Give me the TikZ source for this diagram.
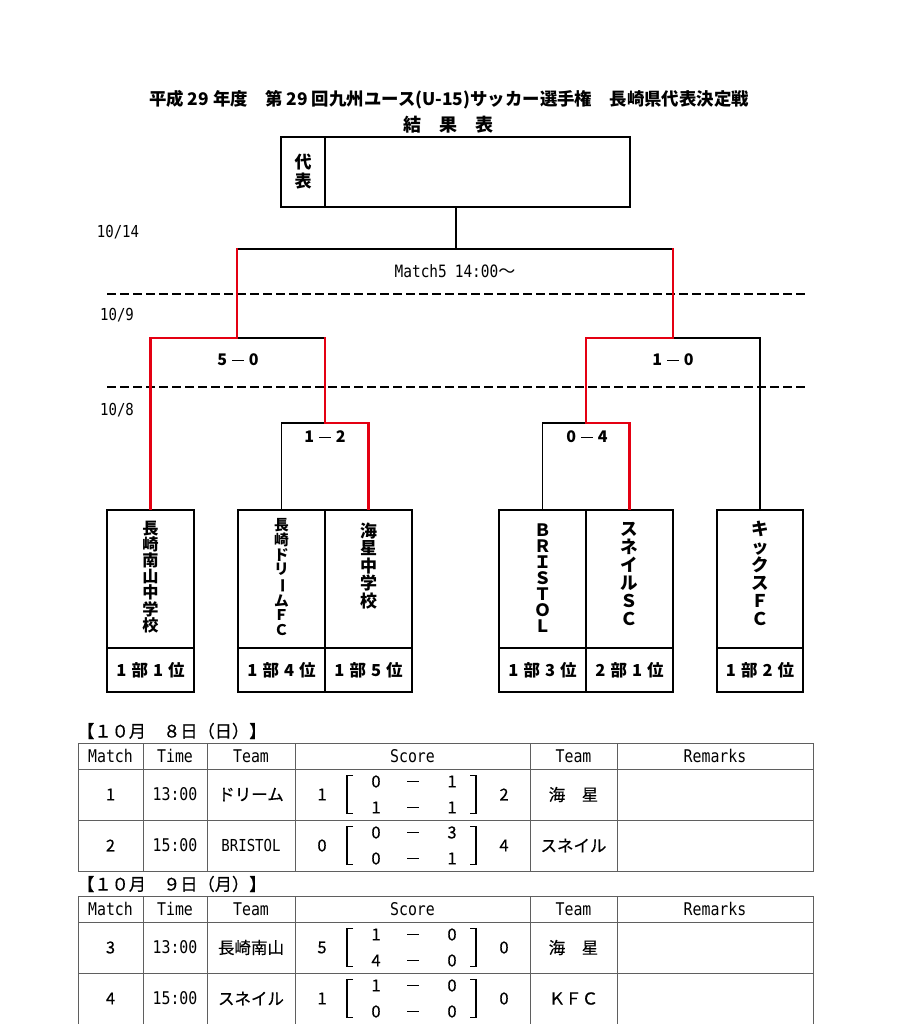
\documentclass[tikz,border=0pt]{standalone}
\usepackage{fontspec}
\usepackage{graphicx}
\setmainfont{Noto Sans CJK JP}
\newfontfamily\jptab{Noto Sans CJK JP}[FakeBold=0.4]
\newfontfamily\narrow{DejaVu Sans Mono}[FakeStretch=0.85]
\definecolor{winred}{RGB}{228,0,18}
\definecolor{gridgray}{RGB}{95,95,95}
\newcommand{\vbar}{\rotatebox[origin=c]{-90}{ー}}
\newcommand{\sdash}{\hspace{0.3em}\rule[0.3em]{0.75em}{0.08em}\hspace{0.3em}}
\begin{document}
\begin{tikzpicture}[x=1pt,y=-1pt,
  blk/.style={line width=1.8pt, black, line cap=rect},
  win/.style={line width=2.6pt, winred, line cap=rect, line join=miter},
  dashsep/.style={line width=1.8pt, black, dash pattern=on 9pt off 4pt},
  boxcell/.style={draw, line width=1.8pt, inner sep=0pt, minimum width=87pt},
  vtext/.style={anchor=north, align=center, inner sep=0pt},
  rank/.style={boxcell, minimum height=44pt, font=\bfseries\fontsize{16.5}{18}\selectfont},
  tall/.style={boxcell, minimum height=138pt},
  cell/.style={draw=gridgray, line width=0.9pt},
  brk/.style={line width=1.1pt, black},
  tabtxt/.style={inner sep=0pt, font=\jptab\fontsize{16.5}{17}\selectfont},
  tablat/.style={inner sep=0pt, font=\narrow\fontsize{17.5}{18}\selectfont},
  scoretxt/.style={inner sep=0pt, font=\bfseries\fontsize{16}{17}\selectfont}
]
\useasboundingbox[fill=white] (0,0) rectangle (913,1024);

% ---------- titles ----------
\node[inner sep=0pt, font=\bfseries\fontsize{17.4}{19}\selectfont] (title) at (449,100)
  {平成 29 年度　第 29 回九州ユース(U-15)サッカー選手権　長崎県代表決定戦};
\node[inner sep=0pt, font=\bfseries\fontsize{18}{19}\selectfont] (subtitle) at (448,125) {結　果　表};

% ---------- representative box ----------
\node[boxcell, minimum width=44pt, minimum height=70pt] (repL) at (303,172) {};
\node[boxcell, minimum width=305pt, minimum height=70pt] (repR) at (477.5,172) {};
\node[vtext, font=\bfseries\fontsize{17}{19}\selectfont] (repT) at (303,154) {代\\表};

% ---------- team boxes ----------
\node[tall] (A)  at (150.5,579) {};
\node[tall] (B1) at (281.5,579) {};
\node[tall] (B2) at (368.5,579) {};
\node[tall] (C1) at (542.5,579) {};
\node[tall] (C2) at (629.5,579) {};
\node[tall, minimum width=86pt] (D) at (760,579) {};

\node[rank] (Ar)  at (150.5,670) {1\hspace{5pt}部\hspace{5pt}1\hspace{5pt}位};
\node[rank] (B1r) at (281.5,670) {1\hspace{5pt}部\hspace{5pt}4\hspace{5pt}位};
\node[rank] (B2r) at (368.5,670) {1\hspace{5pt}部\hspace{5pt}5\hspace{5pt}位};
\node[rank] (C1r) at (542.5,670) {1\hspace{5pt}部\hspace{5pt}3\hspace{5pt}位};
\node[rank] (C2r) at (629.5,670) {2\hspace{5pt}部\hspace{5pt}1\hspace{5pt}位};
\node[rank, minimum width=86pt] (Dr) at (760,670) {1\hspace{5pt}部\hspace{5pt}2\hspace{5pt}位};

\node[vtext, font=\bfseries\fontsize{16.2}{16.2}\selectfont] (At) at (150.5,520.5) {長\\崎\\南\\山\\中\\学\\校};
\node[vtext, font=\bfseries\fontsize{14.7}{14.7}\selectfont] (B1t) at (281.5,518.5) {長\\崎\\ド\\リ\\\vbar\\ム\\Ｆ\\Ｃ};
\node[vtext, font=\bfseries\fontsize{17}{17.5}\selectfont] (B2t) at (368.5,522.5) {海\\星\\中\\学\\校};
\node[vtext, font=\bfseries\fontsize{17}{16}\selectfont] (C1t) at (542.5,523.5) {Ｂ\\Ｒ\\Ｉ\\Ｓ\\Ｔ\\Ｏ\\Ｌ};
\node[vtext, font=\bfseries\fontsize{17.5}{18}\selectfont] (C2t) at (629.5,522) {ス\\ネ\\イ\\ル\\Ｓ\\Ｃ};
\node[vtext, font=\bfseries\fontsize{17.5}{18}\selectfont] (Dt) at (760,520.5) {キ\\ッ\\ク\\ス\\Ｆ\\Ｃ};

% ---------- dashed day separators ----------
\coordinate (d1a) at (107,294); \coordinate (d1b) at (805,294);
\coordinate (d2a) at (107,387); \coordinate (d2b) at (805,387);
\draw[dashsep] (d1a) -- (d1b);
\draw[dashsep] (d2a) -- (d2b);

% ---------- bracket ----------
\coordinate (jT) at (456,249);
\coordinate (jL) at (237,249);
\coordinate (jR) at (673,249);
\coordinate (sL) at (237,338);
\coordinate (sLr) at (325,338);
\coordinate (sR) at (673,338);
\coordinate (sRl) at (586,338);
\coordinate (qL) at (325,423);
\coordinate (qR) at (586,423);

\draw[blk] (repR.south -| jT) -- (jT);
\draw[blk] (jL) -- (jR);
\draw[blk] (sL) -- (sLr);
\draw[blk] (B1.north) |- (qL);
\draw[blk] (C1.north) |- (qR);
\draw[blk] (D.north) |- (sR);

\draw[win] (A.north) |- (sL) -- (jL);
\draw[win] (B2.north) |- (qL) -- (sLr);
\draw[win] (C2.north) |- (qR) -- (sRl) -- (sR) -- (jR);

% ---------- bracket labels ----------
\node[tablat, font=\narrow\fontsize{16.5}{17}\selectfont] (d14) at (118,232) {10/14};
\node[tablat, font=\narrow\fontsize{16.5}{17}\selectfont] (d9) at (117,315) {10/9};
\node[tablat, font=\narrow\fontsize{16.5}{17}\selectfont] (d8) at (117,410) {10/8};
\node[inner sep=0pt] (m5) at (455,271) {\narrow\fontsize{17}{18}\selectfont Match5\hspace{8pt}14:00{\rmfamily ～}};
\node[scoretxt] (s5) at (238,360) {5\sdash 0};
\node[scoretxt] (s12) at (325,437) {1\sdash 2};
\node[scoretxt] (s04) at (587,437) {0\sdash 4};
\node[scoretxt] (s10) at (673,360) {1\sdash 0};

% ---------- tables ----------
\node[tabtxt, anchor=west, font=\jptab\fontsize{17.2}{18}\selectfont] (day1) at (77,731) {【１０月　８日（日）】};
\node[tabtxt, anchor=west, font=\jptab\fontsize{17.2}{18}\selectfont] (day2) at (77,884) {【１０月　９日（月）】};

% table 1 grid
\draw[cell] (78,743) rectangle (813,871);
\draw[cell] (78,769) -- (813,769);
\draw[cell] (78,820) -- (813,820);
\foreach \x in {143,207,295,530,617} \draw[cell] (\x,743) -- (\x,871);
% table 2 grid
\draw[cell] (78,1024) -- (78,896) -- (813,896) -- (813,1024);
\draw[cell] (78,922) -- (813,922);
\draw[cell] (78,973) -- (813,973);
\foreach \x in {143,207,295,530,617} \draw[cell] (\x,896) -- (\x,1024);

% headers
\foreach \k/\hy in {1/756, 2/909} {
  \node[tablat] (hM\k) at (110.5,\hy) {Match};
  \node[tablat] (hT\k) at (175,\hy) {Time};
  \node[tablat] (hA\k) at (251,\hy) {Team};
  \node[tablat] (hS\k) at (412.5,\hy) {Score};
  \node[tablat] (hB\k) at (573.5,\hy) {Team};
  \node[tablat] (hR\k) at (715,\hy) {Remarks};
}

% rows
\foreach \n/\y/\tm/\ta/\sa/\p/\q/\r/\s/\sb/\tb in {
  1/794.5/13:00/ドリーム/1/0/1/1/1/2/海　星,
  2/845.5/15:00/{\narrow BRISTOL}/0/0/3/0/1/4/スネイル,
  3/947.5/13:00/長崎南山/5/1/0/4/0/0/海　星,
  4/998.5/15:00/スネイル/1/1/0/0/0/0/ＫＦＣ} {
  \node[tabtxt] (rm\n) at (110.5,\y) {\n};
  \node[tablat] (rt\n) at (175,\y) {\tm};
  \node[tabtxt] (ra\n) at (251,\y) {\ta};
  \node[tabtxt] (rsa\n) at (322,\y) {\sa};
  \node[tabtxt] (rp\n) at (376,{\y-13}) {\p};
  \node[inner sep=0pt] (rd\n) at (413,{\y-13}) {\rule{12pt}{1.3pt}};
  \node[tabtxt] (rq\n) at (452,{\y-13}) {\q};
  \node[tabtxt] (rr\n) at (376,{\y+13}) {\r};
  \node[inner sep=0pt] (re\n) at (413,{\y+13}) {\rule{12pt}{1.3pt}};
  \node[tabtxt] (rs\n) at (452,{\y+13}) {\s};
  \node[tabtxt] (rsb\n) at (504,\y) {\sb};
  \node[tabtxt] (rb\n) at (573.5,\y) {\tb};
  \draw[brk] (353,{\y-19}) -- (347,{\y-19}) -- (347,{\y+19}) -- (353,{\y+19});
  \draw[brk] (470,{\y-19}) -- (476,{\y-19}) -- (476,{\y+19}) -- (470,{\y+19});
}
\end{tikzpicture}
\end{document}
